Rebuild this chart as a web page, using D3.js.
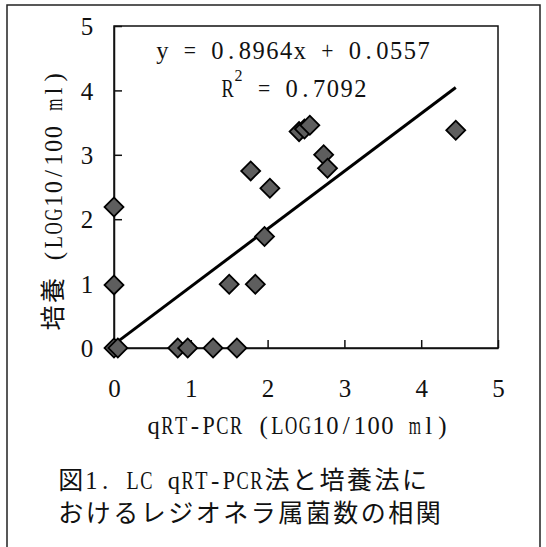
<!DOCTYPE html>
<html>
<head>
<meta charset="utf-8">
<script src="https://cdn.jsdelivr.net/npm/d3@7"></script>
<style>
  body { margin: 0; background: #fff; }
</style>
</head>
<body>
<div id="chart"></div>
<script>
// values
var qpcr    = [0, 0.05, 0, 0, 0.83, 0.96, 1.29, 1.60, 1.50, 1.84, 1.96, 1.78, 2.03, 2.41, 2.48, 2.55, 2.73, 2.78, 4.45];
var culture = [0, 0, 0.98, 2.19, 0, 0, 0, 0, 0.99, 0.99, 1.73, 2.75, 2.48, 3.36, 3.40, 3.46, 3.00, 2.79, 3.38];
var tickValues = [0, 1, 2, 3, 4, 5];
var slope = 0.8964, intercept = 0.0557;
var eqText = "y = 0.8964x + 0.0557";
var r2Text = " = 0.7092";
var xTitle = "qRT-PCR (LOG10/100 ml)";
var yTitle = "培養 (LOG10/100 ml)";
var caption = ["図1. LC qRT-PCR法と培養法に", "おけるレジオネラ属菌数の相関"];

var W = 546, H = 547;
var serif = "'Liberation Serif', serif";
var cjk = "'Noto Sans CJK JP', sans-serif";
var HALF = 13.75, FULL = 27.5;

var svg = d3.select("#chart").append("svg")
  .attr("width", W).attr("height", H);

// outer frame of the figure
svg.append("path")
  .attr("d", "M7,560 V5 H540 V560")
  .attr("fill", "none").attr("stroke", "#222").attr("stroke-width", 1.5);

var x = d3.scaleLinear().domain([0, 5]).range([114, 498]);
var y = d3.scaleLinear().domain([0, 5]).range([348, 26]);

// plot box
svg.append("rect")
  .attr("x", x(0)).attr("y", y(5))
  .attr("width", x(5) - x(0)).attr("height", y(0) - y(5))
  .attr("fill", "none").attr("stroke", "#111").attr("stroke-width", 1.5);

// axes, ticks pointing inward
var xAxis = svg.append("g")
  .attr("transform", "translate(0," + y(0) + ")")
  .call(d3.axisBottom(x).tickValues(tickValues).tickFormat(d3.format("d")).tickSize(-8).tickSizeOuter(0));
var yAxis = svg.append("g")
  .attr("transform", "translate(" + x(0) + ",0)")
  .call(d3.axisLeft(y).tickValues(tickValues).tickFormat(d3.format("d")).tickSize(-8).tickSizeOuter(0));

[xAxis, yAxis].forEach(function(a) {
  a.select(".domain").attr("stroke", "#111").attr("stroke-width", 1.5);
  a.selectAll(".tick line").attr("stroke", "#111").attr("stroke-width", 1.5);
  a.selectAll("text")
    .style("font-family", serif)
    .style("font-size", "25px")
    .attr("fill", "#111");
});
xAxis.selectAll("text").attr("y", 40).attr("dy", "0.35em");
yAxis.selectAll("text").attr("x", -27).attr("dy", "0.35em").attr("text-anchor", "middle");

// trend line
svg.append("line")
  .attr("x1", x(0)).attr("y1", y(intercept))
  .attr("x2", x(d3.max(qpcr))).attr("y2", y(slope * d3.max(qpcr) + intercept))
  .attr("stroke", "#000").attr("stroke-width", 3);

// points
var pts = qpcr.map(function(v, i) { return {x: v, y: culture[i]}; });
svg.selectAll(".pt")
  .data(pts)
  .enter()
  .append("path")
  .attr("class", "pt")
  .attr("d", d3.symbol(d3.symbolSquare, 180))
  .attr("transform", function(d) { return "translate(" + x(d.x) + "," + y(d.y) + ") rotate(45)"; })
  .attr("fill", "#5e5e5e")
  .attr("stroke", "#000")
  .attr("stroke-width", 1.8);

// lay text out in fixed cells like a Mincho font: half width for ascii, full for the rest
function cellWidth(c) { return /[\x00-\x7f]/.test(c) ? HALF : FULL; }
function textWidth(str) { return Array.from(str).reduce(function(s, c) { return s + cellWidth(c); }, 0); }
function cellText(g, str, x0, yc) {
  var cur = x0;
  var line = g.append("g");
  Array.from(str).forEach(function(c) {
    var w = cellWidth(c);
    if (c !== " ") {
      var t = line.append("text")
        .attr("dy", "0.35em")
        .attr("text-anchor", "middle")
        .attr("fill", "#111")
        .style("font-family", w === HALF ? serif : cjk)
        .style("font-size", w === HALF ? "25px" : "25px")
        .text(c);
      // squeeze wide latin glyphs into their half-width cell
      var len = t.node().getComputedTextLength();
      var sx = (w === HALF && len > w - 1.5) ? (w - 1.5) / len : 1;
      t.attr("transform", "translate(" + (cur + w / 2) + "," + yc + ") scale(" + sx + ",1)");
    }
    cur += w;
  });
  return cur;
}

// equation
var eq = svg.append("g");
cellText(eq, eqText, 293 - textWidth(eqText) / 2, 50);
var r2w = HALF + 9 + textWidth(r2Text);
var r2x = 294 - r2w / 2;
cellText(eq, "R", r2x, 88);
eq.append("text")
  .attr("x", r2x + HALF + 4).attr("y", 81)
  .attr("text-anchor", "middle")
  .style("font-family", serif).style("font-size", "16px")
  .attr("fill", "#111")
  .text("2");
cellText(eq, r2Text, r2x + HALF + 9, 88);

// x axis title
cellText(svg, xTitle, 298 - textWidth(xTitle) / 2, 425);

// y axis title
var yg = svg.append("g").attr("transform", "translate(53,201) rotate(-90)");
cellText(yg, yTitle, -textWidth(yTitle) / 2, 0);

// caption
caption.forEach(function(line, i) {
  cellText(svg, line, 57, 480 + i * 33);
});
</script>
</body>
</html>
